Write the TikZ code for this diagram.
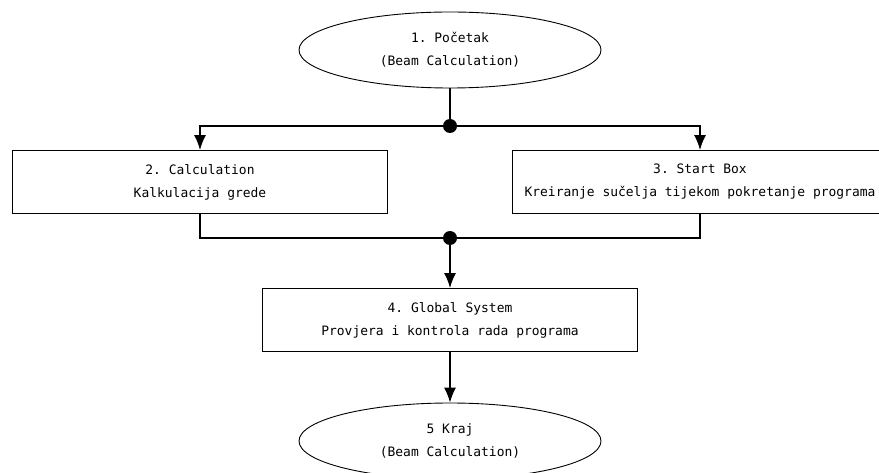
\documentclass[tikz,border=0pt]{standalone}
\usepackage{fontspec}
\setmonofont{DejaVu Sans Mono}
\usetikzlibrary{shapes.geometric, arrows.meta}
\begin{document}
\begin{tikzpicture}[x=1bp, y=1bp, font=\ttfamily\fontsize{13}{23}\selectfont,
  term/.style = {draw, line width=0.9bp, ellipse, minimum width=302bp, minimum height=76bp, inner sep=0pt, align=center},
  proc/.style = {draw, line width=1bp, rectangle, minimum width=375bp, minimum height=63bp, inner sep=0pt, align=center},
  dot/.style = {circle, fill, inner sep=0pt, minimum size=14bp},
  link/.style = {line width=1.3bp},
  arrow/.style = {line width=1.3bp, -{Latex[length=15pt, width=12pt]}}]
\useasboundingbox (0,0) rectangle (879,-473);

\node[term] (start) at (450,-50) {1. Početak\\(Beam Calculation)};
\node[dot] (split) [below of=start, node distance=76bp] {};
\node[proc] (calc) [below of=split, node distance=56bp, xshift=-250bp] {2. Calculation\\Kalkulacija grede};
\node[proc] (startbox) [below of=split, node distance=56bp, xshift=250bp] {3. Start Box\\Kreiranje sučelja tijekom pokretanje programa};
\node[dot] (join) [below of=split, node distance=112bp] {};
\node[proc] (global) [below of=join, node distance=82bp] {4. Global System\\Provjera i kontrola rada programa};
\node[term] (end) [below of=global, node distance=121bp] {5 Kraj\\(Beam Calculation)};

\draw[link] (start) -- (split);
\draw[arrow] (split) -| (calc);
\draw[arrow] (split) -| (startbox);
\draw[link] (calc) |- (join);
\draw[link] (startbox) |- (join);
\draw[arrow] (join) -- (global);
\draw[arrow] (global) -- (end);

\end{tikzpicture}
\end{document}
